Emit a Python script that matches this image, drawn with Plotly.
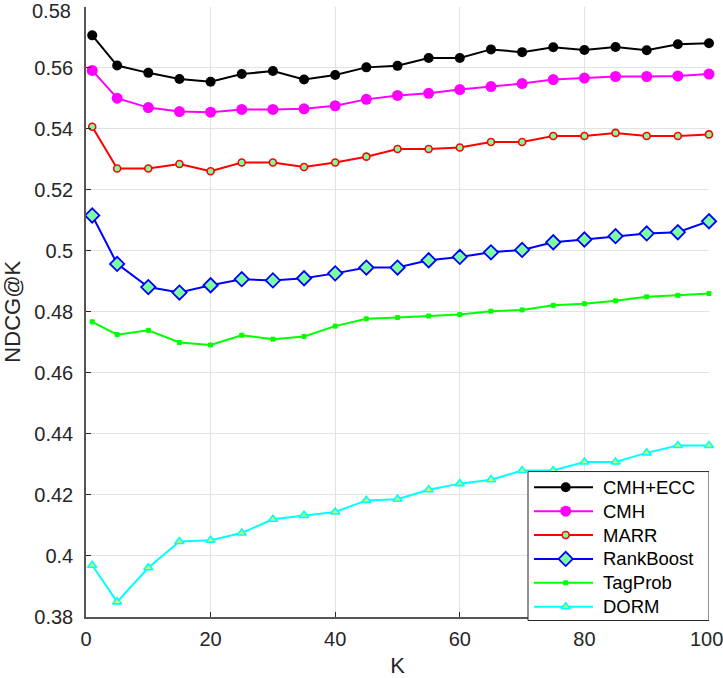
import plotly.graph_objects as go

K = [1, 5, 10, 15, 20, 25, 30, 35, 40, 45, 50, 55, 60, 65, 70, 75, 80, 85, 90, 95, 100]

cmh_ecc = [0.5707, 0.5608, 0.5584, 0.5564, 0.5555, 0.5580, 0.5590, 0.5562, 0.5577, 0.5602, 0.5607,
           0.5633, 0.5633, 0.5661, 0.5652, 0.5668, 0.5659, 0.5669, 0.5658, 0.5678, 0.5681]
cmh = [0.5592, 0.5501, 0.5470, 0.5457, 0.5455, 0.5464, 0.5464, 0.5466, 0.5476, 0.5497, 0.5510,
       0.5517, 0.5529, 0.5539, 0.5549, 0.5562, 0.5567, 0.5572, 0.5572, 0.5574, 0.5580]
marr = [0.5407, 0.5270, 0.5270, 0.5285, 0.5261, 0.5290, 0.5290, 0.5275, 0.5290, 0.5309, 0.5334,
        0.5334, 0.5339, 0.5357, 0.5357, 0.5377, 0.5377, 0.5387, 0.5377, 0.5377, 0.5382]
rankboost = [0.5116, 0.4957, 0.4881, 0.4863, 0.4887, 0.4907, 0.4903, 0.4910, 0.4926, 0.4945, 0.4945,
             0.4969, 0.4980, 0.4995, 0.5003, 0.5028, 0.5037, 0.5048, 0.5057, 0.5061, 0.5097]
tagprob = [0.4767, 0.4725, 0.4739, 0.4699, 0.4691, 0.4723, 0.4710, 0.4719, 0.4753, 0.4777, 0.4781,
           0.4786, 0.4791, 0.4802, 0.4806, 0.4821, 0.4826, 0.4836, 0.4849, 0.4854, 0.4860]
dorm = [0.3968, 0.3848, 0.3960, 0.4046, 0.4050, 0.4074, 0.4119, 0.4132, 0.4143, 0.4181, 0.4185,
        0.4216, 0.4236, 0.4249, 0.4279, 0.4279, 0.4307, 0.4307, 0.4337, 0.4361, 0.4361]

x_ticks = [0, 20, 40, 60, 80, 100]
x_tick_text = ["0", "20", "40", "60", "80", "100"]
y_ticks = [0.38, 0.40, 0.42, 0.44, 0.46, 0.48, 0.50, 0.52, 0.54, 0.56, 0.58]
y_tick_text = ["0.38", "0.4", "0.42", "0.44", "0.46", "0.48", "0.5", "0.52", "0.54", "0.56", "0.58"]

FACE = "#7dffa1"

series = [
    ("CMH+ECC", cmh_ecc, "black", dict(symbol="circle", size=10, color="black")),
    ("CMH", cmh, "#ff00ff", dict(symbol="circle", size=11, color="#ff00ff")),
    ("MARR", marr, "#ff0000", dict(symbol="circle", size=7, color=FACE, line=dict(color="#ff0000", width=1.6))),
    ("RankBoost", rankboost, "#0000ff", dict(symbol="diamond", size=11, color=FACE, line=dict(color="#0000ff", width=1.8))),
    ("TagProb", tagprob, "#00ff00", dict(symbol="square", size=4, color="#00ff00", line=dict(color="#00ff00", width=1))),
    ("DORM", dorm, "#00ffff", dict(symbol="triangle-up", size=8, color="#c8ff60", line=dict(color="#00ffff", width=1.6))),
]

# Geometry (pixels) of the page layout
W, H = 723, 678
PL, PR, PT, PB = 86, 709, 7.3, 617      # plot area
LEG_BOTTOM = 621.5                      # legend box extends a little below the axis
LEG_BOX = (528, 709, 472, 621)          # left, right, top, bottom
ROW0, ROW_STEP = 487.7, 23.9
LINE_X = (534, 593)
MARK_X = 565.7
TEXT_X = 601

FAM = "Liberation Sans, Arial, sans-serif"
tick_font = dict(family=FAM, size=20, color="#262626")

span = LEG_BOTTOM - PT


def px_to_paper(px, py):
    return (px - PL) / (PR - PL), (LEG_BOTTOM - py) / span


fig = go.Figure()
for name, vals, col, mk in series:
    fig.add_trace(go.Scatter(x=K, y=vals, name=name, mode="lines+markers", cliponaxis=False,
                             line=dict(color=col, width=2), marker=mk,
                             xaxis="x", yaxis="y", showlegend=False))

# Hand-built legend on an overlapping pixel-unit subplot (drawn above the data)
l, r, t, b = LEG_BOX
fig.add_trace(go.Scatter(x=[l, r, r, l, l], y=[t, t, b, b, t], mode="lines", fill="toself",
                         fillcolor="white", line=dict(color="#262626", width=1),
                         xaxis="x2", yaxis="y2", showlegend=False, hoverinfo="skip"))
annotations = []
for i, (name, vals, col, mk) in enumerate(series):
    ry = ROW0 + i * ROW_STEP
    fig.add_trace(go.Scatter(x=[LINE_X[0], LINE_X[1]], y=[ry, ry], mode="lines",
                             line=dict(color=col, width=2), xaxis="x2", yaxis="y2",
                             showlegend=False, hoverinfo="skip"))
    fig.add_trace(go.Scatter(x=[MARK_X], y=[ry], mode="markers", marker=mk,
                             xaxis="x2", yaxis="y2", showlegend=False, hoverinfo="skip"))
    annotations.append(dict(x=TEXT_X, y=ry, xref="x2", yref="y2", text=name, showarrow=False,
                            xanchor="left", yanchor="middle",
                            font=dict(family=FAM, size=18.5, color="#000000")))

# Edge tick labels placed as paper annotations so they stay inside the page
ax_, ay_ = px_to_paper(706, 640)
annotations.append(dict(x=ax_, y=ay_, xref="paper", yref="paper", text=x_tick_text[-1], showarrow=False,
                        xanchor="center", yanchor="middle", font=tick_font))
ax_, ay_ = px_to_paper(71.5, 0.5)
annotations.append(dict(x=ax_, y=ay_, xref="paper", yref="paper", text=y_tick_text[-1], showarrow=False,
                        xanchor="right", yanchor="top", height=19, borderpad=0, valign="middle",
                        font=tick_font))
x_tick_shown = x_tick_text[:-1] + [""]
y_tick_shown = y_tick_text[:-1] + [""]

bottom_margin = H - LEG_BOTTOM
main_y_domain = [(LEG_BOTTOM - PB) / span, 1]

fig.update_layout(
    width=W, height=H,
    margin=dict(l=PL, r=W - PR, t=PT, b=bottom_margin, autoexpand=False),
    paper_bgcolor="white", plot_bgcolor="rgba(0,0,0,0)",
    font=dict(family=FAM, size=19, color="#262626"),
    showlegend=False,
    annotations=annotations,
    xaxis=dict(range=[0, 100.001], tickvals=x_ticks, ticktext=x_tick_shown, ticks="inside", ticklen=5,
               tickcolor="#262626", tickfont=tick_font, ticklabelstandoff=4, automargin=False,
               showgrid=True, gridcolor="#e3e3e3", gridwidth=1,
               showline=True, linecolor="#555555", linewidth=1.5, zeroline=False,
               title=dict(text="K", font=dict(family=FAM, size=22, color="#262626"), standoff=8)),
    yaxis=dict(range=[0.38, 0.58001], tickvals=y_ticks, ticktext=y_tick_shown, ticks="inside", ticklen=5,
               tickfont=tick_font, ticklabelstandoff=7, automargin=False, domain=main_y_domain,
               tickcolor="#262626", showgrid=True, gridcolor="#e3e3e3", gridwidth=1,
               showline=True, linecolor="#555555", linewidth=1.5, zeroline=False,
               title=dict(text="NDCG@K", font=dict(family=FAM, size=22, color="#262626"), standoff=9)),
    xaxis2=dict(range=[PL, PR], domain=[0, 1], anchor="y2", visible=False, fixedrange=True),
    yaxis2=dict(range=[LEG_BOTTOM, PT], domain=[0, 1], anchor="x2", visible=False, fixedrange=True),
)

fig.write_html("out.html")
